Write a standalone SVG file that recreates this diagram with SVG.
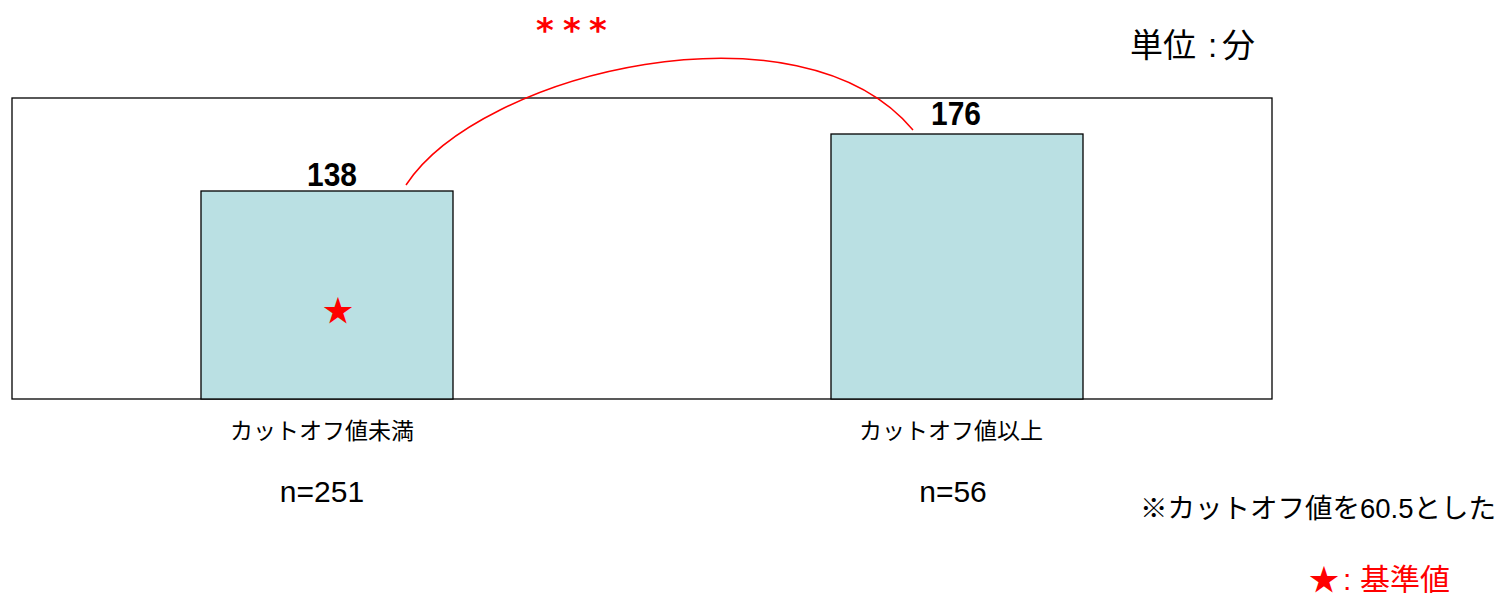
<svg xmlns="http://www.w3.org/2000/svg" width="1500" height="593" viewBox="0 0 1500 593">
<style>
.bar{fill:#BAE0E3;stroke:#000;stroke-width:1.3}
.t{font-family:"Liberation Sans","Noto Sans CJK JP",sans-serif;fill:#000}
.r{fill:#FF0000}
.v{font-family:"Liberation Sans","Noto Sans CJK JP",sans-serif;font-size:34px;font-weight:bold;text-anchor:middle}
.ast{font-family:"DejaVu Sans",sans-serif;font-size:34px;font-weight:bold;fill:#FF0000;text-anchor:middle}
</style>
<rect x="0" y="0" width="1500" height="593" fill="#fff"/>
<g id="frame"><rect x="12" y="98" width="1260" height="301" fill="none" stroke="#000" stroke-width="1.3"/></g>
<g id="bar1">
<rect class="bar" x="201" y="191" width="252" height="208"/>
<text class="v" x="332" y="186" transform="translate(332 0) scale(0.88 1) translate(-332 0)">138</text>
<text class="t r" x="338" y="321" font-size="30" text-anchor="middle">★</text>
<text class="t" x="322" y="439" font-size="23" text-anchor="middle">カットオフ値未満</text>
<text class="t" x="322" y="502" font-size="30" text-anchor="middle">n=251</text>
</g>
<g id="bar2">
<rect class="bar" x="831" y="134" width="252" height="265"/>
<text class="v" x="956" y="125" transform="translate(956 0) scale(0.88 1) translate(-956 0)">176</text>
<text class="t" x="951" y="439" font-size="23" text-anchor="middle">カットオフ値以上</text>
<text class="t" x="953" y="502" font-size="30" text-anchor="middle">n=56</text>
</g>
<g id="connectors">
<path d="M406,185 C480,72 800,-5 913,130" fill="none" stroke="#FF0000" stroke-width="1.5"/>
<text class="ast" x="545" y="42">*</text>
<text class="ast" x="572" y="42">*</text>
<text class="ast" x="598" y="42">*</text>
</g>
<g id="notes">
<text class="t" font-size="33" y="57"><tspan x="1130">単位</tspan><tspan x="1208">:</tspan><tspan x="1222">分</tspan></text>
<text class="t" x="1140" y="518" font-size="27.5">※カットオフ値を60.5とした</text>
<text class="t r" font-size="30" y="590"><tspan x="1309">★</tspan><tspan x="1343">:</tspan><tspan x="1360">基準値</tspan></text>
</g>
</svg>
